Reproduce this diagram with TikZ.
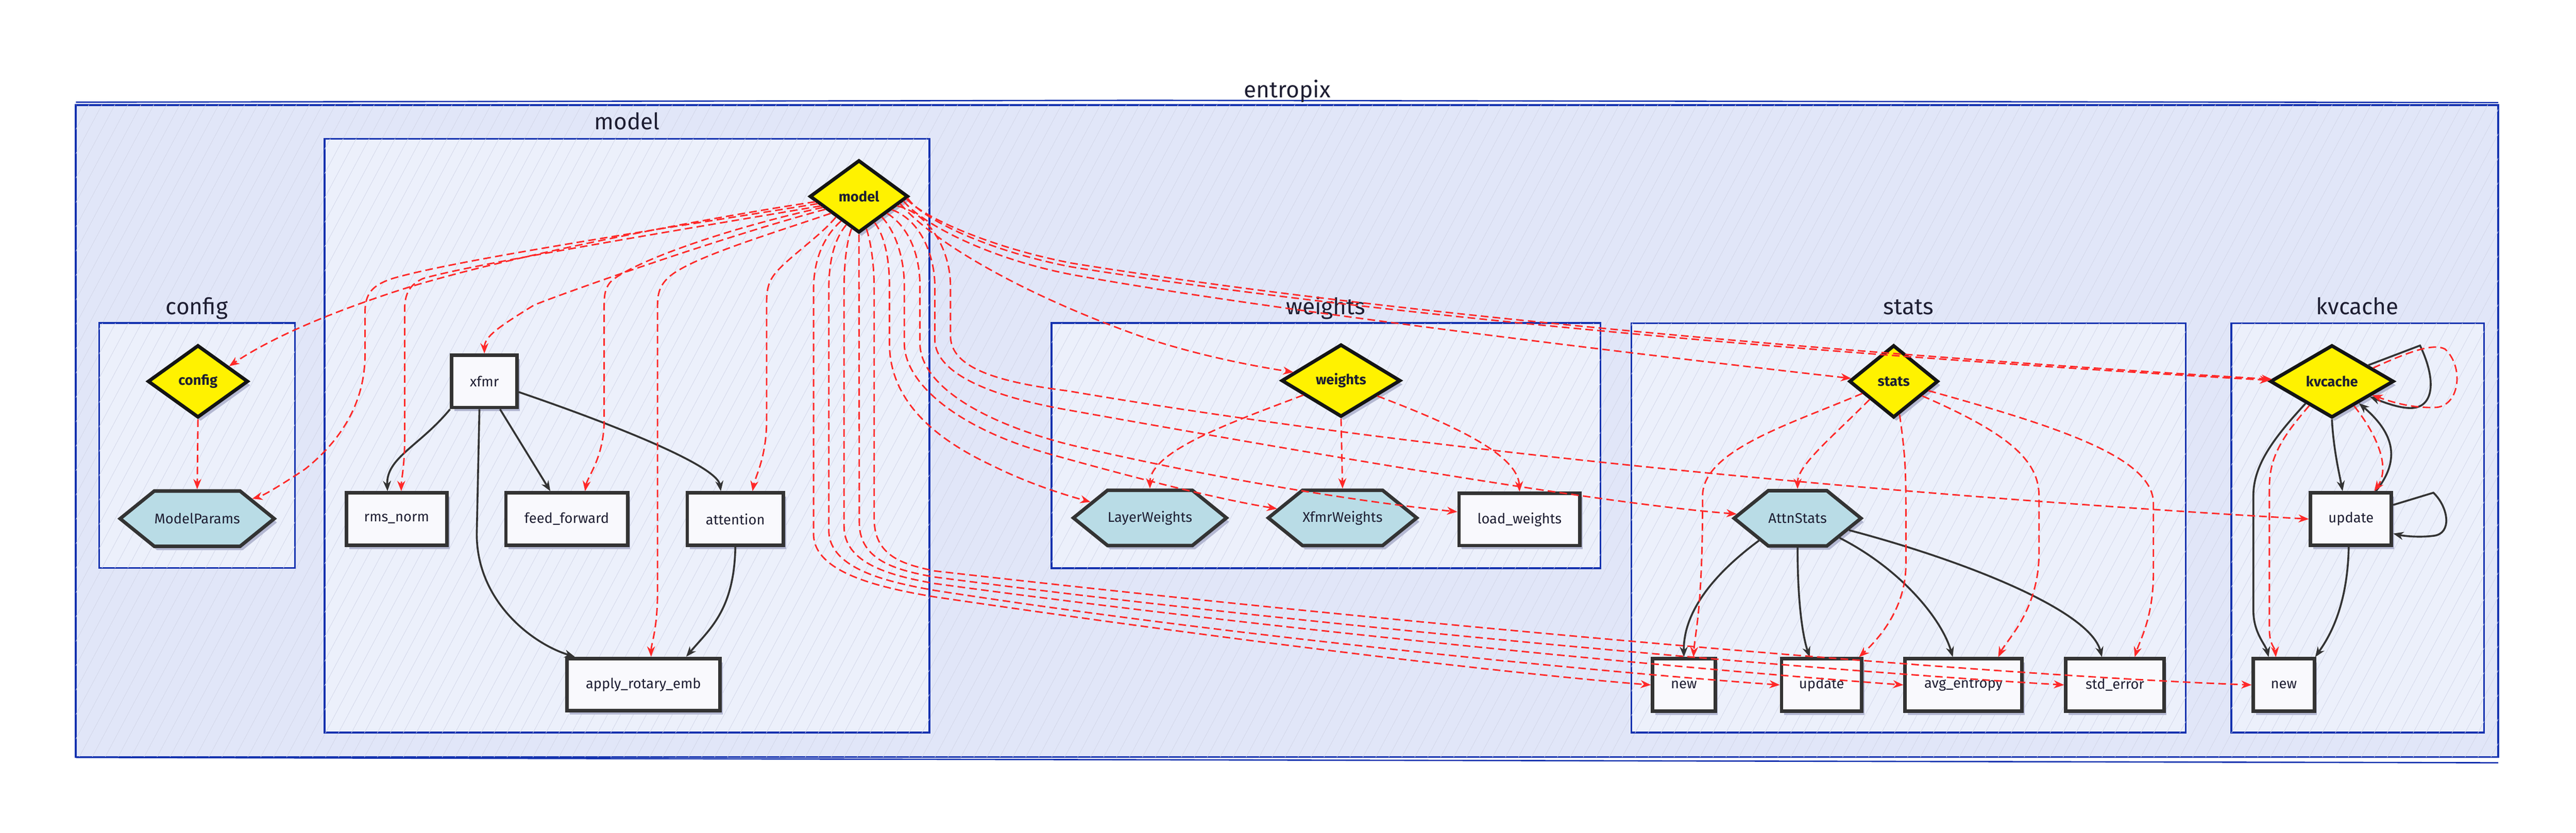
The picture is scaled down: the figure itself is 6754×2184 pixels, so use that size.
\documentclass[tikz,border=0pt]{standalone}
\usepackage{fontspec}
\setmainfont{Fira Sans}
\usetikzlibrary{shapes.geometric,shapes.symbols,arrows.meta,shadows,calc,patterns.meta}

\definecolor{outerfill}{RGB}{225,230,248}
\definecolor{innerfill}{RGB}{236,240,251}
\definecolor{hatch}{RGB}{210,214,232}
\definecolor{clusterline}{RGB}{20,50,175}
\definecolor{redline}{RGB}{255,40,40}
\definecolor{darkline}{RGB}{51,51,51}
\definecolor{hexfill}{RGB}{185,220,230}
\definecolor{boxfill}{RGB}{249,249,253}
\definecolor{shadowc}{RGB}{180,184,210}
\definecolor{txt}{RGB}{30,30,50}

\begin{document}
\begin{tikzpicture}[x=0.01cm,y=-0.01cm,
  hatching/.style={postaction={pattern={Lines[angle=62, distance=0.3cm, line width=0.3pt]}, pattern color=hatch}},
  cluster/.style={draw=clusterline, line width=1.3pt, fill=innerfill, hatching},
  title/.style={font=\fontsize{17}{20}\selectfont, text=txt, inner sep=0, anchor=base},
  nbase/.style={line width=2.6pt, text=txt, inner sep=0, font=\fontsize{10.5}{12}\selectfont,
    drop shadow={shadow xshift=0.07cm, shadow yshift=-0.1cm, fill=shadowc, opacity=1}},
  dia/.style={nbase, diamond, draw=black!92, fill=yellow, font=\bfseries\fontsize{10.5}{12}\selectfont, minimum height=1.9cm},
  hex/.style={nbase, signal, signal to=west and east, signal pointer angle=78, draw=darkline, fill=hexfill, minimum height=1.45cm},
  box/.style={nbase, rectangle, draw=darkline, fill=boxfill, minimum height=1.37cm},
  dep/.style={draw=redline, line width=1.1pt, dash pattern=on 0.2cm off 0.11cm, -{Stealth[length=0.27cm,width=0.21cm]}},
  call/.style={draw=darkline, line width=1.4pt, -{Stealth[length=0.27cm,width=0.21cm]}},
]
\useasboundingbox (0,0) rectangle (6754,2184);

% ---------- clusters ----------
\path[draw=clusterline, fill=outerfill, hatching, line width=1.5pt] (199,275) rectangle (6550,1985);
\draw[clusterline, line width=1pt] (199,268) -- (3000,263) -- (6550,269);
\draw[clusterline, line width=1pt] (199,1986) -- (6550,2000);
\node[title] (t_entropix) at (3375,256) {entropix};

\path[cluster] (260,847) rectangle (773,1489);
\node[title] (t_config) at (516,824) {config};
\path[cluster] (851,364) rectangle (2437,1921);
\node[title] (t_model) at (1644,340) {model};
\path[cluster] (2757,847) rectangle (4196,1490);
\node[title] (t_weights) at (3476,824) {weights};
\path[cluster] (4277,848) rectangle (5731,1921);
\node[title] (t_stats) at (5004,824) {stats};
\path[cluster] (5850,848) rectangle (6513,1921);
\node[title] (t_kvcache) at (6181,824) {kvcache};

% ---------- nodes ----------
\node[dia, minimum width=2.58cm] (model) at (2252,515) {model};
\node[dia, minimum width=2.63cm] (configd) at (519,1000) {config};
\node[hex, minimum width=3.89cm] (mp) at (517,1360) {ModelParams};
\node[box, minimum width=1.71cm] (xfmr) at (1270,1000) {xfmr};
\node[box, minimum width=2.63cm] (rms) at (1040,1361) {rms\_norm};
\node[box, minimum width=3.19cm] (ff) at (1486,1361) {feed\_forward};
\node[box, minimum width=2.52cm] (attn) at (1928,1361) {attention};
\node[box, minimum width=4.01cm] (rope) at (1687,1795) {apply\_rotary\_emb};

\node[dia, minimum width=3.12cm] (weightsd) at (3516,998) {weights};
\node[hex, minimum width=3.97cm] (lw) at (3015,1358) {LayerWeights};
\node[hex, minimum width=3.79cm] (xw) at (3520,1358) {XfmrWeights};
\node[box, minimum width=3.17cm] (lwts) at (3984,1362) {load\_weights};

\node[dia, minimum width=2.33cm] (statsd) at (4965,1000) {stats};
\node[hex, minimum width=3.20cm] (attnstats) at (4713,1359) {AttnStats};
\node[box, minimum width=1.64cm] (snew) at (4415,1796) {new};
\node[box, minimum width=2.10cm] (supd) at (4776,1796) {update};
\node[box, minimum width=3.06cm] (savg) at (5148,1796) {avg\_entropy};
\node[box, minimum width=2.57cm] (sstd) at (5545,1796) {std\_error};

\node[dia, minimum width=3.24cm] (kvd) at (6114,1000) {kvcache};
\node[box, minimum width=2.12cm] (kupd) at (6164,1361) {update};
\node[box, minimum width=1.60cm] (knew) at (5988,1796) {new};

% ---------- black call edges ----------
\draw[call] (xfmr.south west) .. controls (1100,1170) and (1012,1200) .. ([xshift=-0.24cm]rms.north);
\draw[call] ([xshift=0.41cm]xfmr.south) -- ([xshift=-0.43cm]ff.north);
\draw[call] ([yshift=-0.28cm]xfmr.east) .. controls (1600,1110) and (1880,1220) .. ([xshift=-0.38cm]attn.north);
\draw[call] ([xshift=-0.13cm]xfmr.south) -- (1250,1400) .. controls (1250,1580) and (1400,1690) .. ([xshift=-1.80cm]rope.north);
\draw[call] (attn.south) .. controls (1925,1600) and (1860,1650) .. ([xshift=1.12cm]rope.north);

\draw[call] (attnstats.210) .. controls (4500,1500) and (4413,1600) .. (snew.north);
\draw[call] (attnstats.south) .. controls (4713,1600) and (4730,1680) .. ([xshift=-0.31cm]supd.north);
\draw[call] (attnstats.335) .. controls (4980,1490) and (5090,1620) .. ([xshift=-0.28cm]savg.north);
\draw[call] (attnstats.347) .. controls (5150,1470) and (5480,1600) .. ([xshift=-0.34cm]sstd.north);

\draw[call] (kvd.24) -- (6345,906) .. controls (6390,1000) and (6380,1070) .. (6320,1070) .. controls (6290,1070) and (6250,1055) .. (kvd.338);
\draw[call] (kvd.south) .. controls (6118,1180) and (6135,1250) .. ([xshift=-0.22cm]kupd.north);
\draw[call] ([xshift=0.65cm]kupd.north) .. controls (6300,1200) and (6270,1130) .. (kvd.321);
\draw[call] ([yshift=0.37cm]kupd.east) -- (6380,1292) .. controls (6420,1330) and (6430,1400) .. (6380,1405) .. controls (6340,1410) and (6300,1405) .. ([yshift=-0.38cm]kupd.east);
\draw[call] (kvd.220) .. controls (5960,1150) and (5908,1220) .. (5908,1300) -- (5908,1600) .. controls (5908,1660) and (5940,1690) .. ([xshift=-0.40cm]knew.north);
\draw[call] ([xshift=-0.06cm]kupd.south) .. controls (6155,1600) and (6100,1680) .. ([xshift=0.82cm]knew.north);

% ---------- red dependency edges ----------
\draw[dep] (configd.south) -- (mp.north);
\draw[dep] (weightsd.201) .. controls (3250,1100) and (3015,1180) .. (lw.north);
\draw[dep] (weightsd.south) -- (xw.north);
\draw[dep] (weightsd.337) .. controls (3800,1110) and (3980,1190) .. (lwts.north);

\draw[dep] (statsd.201) .. controls (4700,1110) and (4464,1180) .. (4464,1300) .. controls (4464,1600) and (4445,1650) .. ([xshift=0.25cm]snew.north);
\draw[dep] (statsd.217) .. controls (4800,1150) and (4713,1220) .. (attnstats.north);
\draw[dep] (statsd.280) .. controls (4997,1200) and (4997,1250) .. (4997,1350) -- (4997,1480) .. controls (4997,1600) and (4920,1680) .. ([xshift=0.98cm]supd.north);
\draw[dep] (statsd.333) .. controls (5250,1130) and (5346,1200) .. (5346,1300) -- (5346,1450) .. controls (5346,1600) and (5260,1680) .. ([xshift=0.91cm]savg.north);
\draw[dep] (statsd.345) .. controls (5400,1120) and (5646,1200) .. (5646,1320) -- (5646,1500) .. controls (5646,1620) and (5610,1680) .. ([xshift=0.52cm]sstd.north);

\draw[dep] (kvd.18) .. controls (6320,920) and (6380,900) .. (6410,915) .. controls (6460,960) and (6450,1060) .. (6390,1068) .. controls (6320,1072) and (6260,1050) .. (kvd.341);
\draw[dep] (kvd.312) .. controls (6240,1150) and (6265,1230) .. ([xshift=0.61cm]kupd.north);
\draw[dep] (kvd.227) .. controls (5980,1150) and (5950,1200) .. (5950,1280) -- (5950,1650) .. controls (5950,1690) and (5965,1700) .. ([xshift=-0.21cm]knew.north);

% model fan: left
\draw[dep] (model.187) .. controls (1800,580) and (1300,680) .. (1050,760) .. controls (880,815) and (720,880) .. (configd.26);
\draw[dep] (model.190) .. controls (1800,590) and (1200,680) .. (1030,730) .. controls (975,748) and (957,770) .. (957,820) -- (957,930) .. controls (957,1050) and (900,1150) .. (800,1230) .. controls (740,1270) and (690,1300) .. (mp.20);
\draw[dep] (model.194) .. controls (1800,600) and (1250,690) .. (1110,730) .. controls (1075,745) and (1061,770) .. (1061,810) -- (1061,1150) .. controls (1061,1220) and (1052,1260) .. ([xshift=0.12cm]rms.north);
\draw[dep] (model.201) .. controls (1900,620) and (1500,760) .. (1400,800) .. controls (1320,850) and (1270,880) .. (xfmr.north);
\draw[dep] (model.197) .. controls (1900,600) and (1650,690) .. (1600,740) .. controls (1588,755) and (1584,770) .. (1584,800) -- (1584,1100) .. controls (1584,1200) and (1540,1250) .. ([xshift=0.48cm]ff.north);
\draw[dep] (model.211) .. controls (2000,620) and (1800,680) .. (1750,730) .. controls (1730,750) and (1724,770) .. (1724,800) -- (1724,1550) .. controls (1724,1650) and (1707,1690) .. ([xshift=0.20cm]rope.north);
\draw[dep] (model.222) .. controls (2150,620) and (2060,680) .. (2030,720) .. controls (2015,740) and (2010,760) .. (2010,790) -- (2010,1100) .. controls (2010,1200) and (1980,1250) .. ([xshift=0.45cm]attn.north);

% model fan: bottom, to stats boxes and kvcache new
\draw[dep] (model.234) .. controls (2160,620) and (2133,680) .. (2133,760) -- (2133,1400) .. controls (2133,1500) and (2300,1540) .. (2450,1565) .. controls (3300,1690) and (4000,1770) .. (snew.west);
\draw[dep] (model.246) .. controls (2185,630) and (2173,690) .. (2173,760) -- (2173,1390) .. controls (2173,1490) and (2320,1525) .. (2450,1548) .. controls (3300,1680) and (4300,1770) .. (supd.west);
\draw[dep] (model.257) .. controls (2218,640) and (2213,700) .. (2213,760) -- (2213,1380) .. controls (2213,1480) and (2340,1510) .. (2450,1530) .. controls (3400,1660) and (4500,1760) .. (savg.west);
\draw[dep] (model.south) -- (2253,1370) .. controls (2253,1470) and (2350,1495) .. (2450,1513) .. controls (3500,1650) and (4800,1760) .. (sstd.west);
\draw[dep] (model.283) .. controls (2285,640) and (2292,700) .. (2292,760) -- (2292,1360) .. controls (2292,1460) and (2370,1480) .. (2450,1497) .. controls (3700,1640) and (5200,1770) .. (knew.west);

% model fan: right, to weights / stats / kvcache nodes
\draw[dep] (model.301) .. controls (2320,620) and (2332,680) .. (2332,750) -- (2332,900) .. controls (2332,1050) and (2450,1150) .. (2600,1220) .. controls (2700,1270) and (2800,1300) .. (lw.165);
\draw[dep] (model.318) .. controls (2350,610) and (2371,680) .. (2371,750) -- (2371,900) .. controls (2371,1000) and (2500,1120) .. (2750,1190) .. controls (3000,1260) and (3200,1310) .. (xw.172);
\draw[dep] (model.329) .. controls (2390,600) and (2412,680) .. (2412,750) -- (2412,900) .. controls (2412,1000) and (2550,1100) .. (2800,1165) .. controls (3200,1260) and (3600,1320) .. ([yshift=0.2cm]lwts.west);
\draw[dep] (model.338) .. controls (2420,580) and (2451,680) .. (2451,750) -- (2451,890) .. controls (2451,980) and (2600,1040) .. (2800,1075) .. controls (3500,1200) and (4200,1320) .. (attnstats.176);
\draw[dep] (model.346) .. controls (2440,560) and (2492,660) .. (2492,750) -- (2492,880) .. controls (2492,960) and (2600,1000) .. (2800,1025) .. controls (4000,1230) and (5500,1330) .. (kupd.west);

\draw[dep] (model.350) .. controls (2450,640) and (2700,780) .. (3000,885) .. controls (3150,935) and (3300,962) .. (weightsd.170);
\draw[dep] (model.354) .. controls (2420,590) and (2600,680) .. (2810,720) .. controls (3300,810) and (4300,930) .. (statsd.176);
\draw[dep] (model.357) .. controls (2420,570) and (2600,650) .. (2810,690) .. controls (3800,850) and (5200,950) .. (kvd.178);
\draw[dep] (model.358) .. controls (2420,578) and (2600,660) .. (2810,700) .. controls (3800,858) and (5200,955) .. (kvd.179);
\end{tikzpicture}
\end{document}
